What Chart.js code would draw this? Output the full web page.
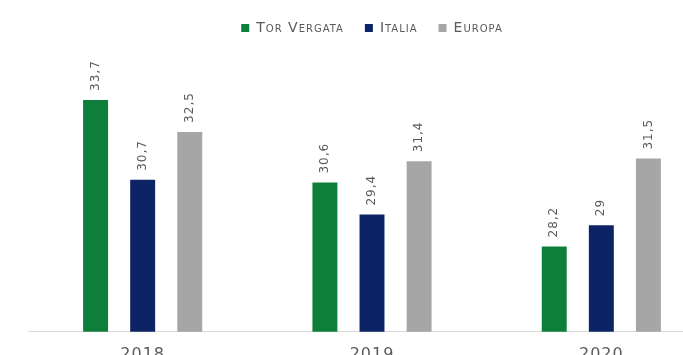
<!DOCTYPE html>
<html>
<head>
<meta charset="utf-8">
<script src="https://cdn.jsdelivr.net/npm/chart.js@4.4.1/dist/chart.umd.min.js"></script>
<style>
	html, body { margin: 0; padding: 0; background: #fff; overflow: hidden; }
	#chart { position: absolute; left: 0; top: 0; }
</style>
</head>
<body>
<canvas id="chart" width="720" height="380"></canvas>

<script>
	const years = ['2018', '2019', '2020'];
	const torVergata = [33.7, 30.6, 28.2];
	const italia = [30.7, 29.4, 29];
	const europa = [32.5, 31.4, 31.5];

	const textColor = '#5a5a5a';
	const fontFamily = '"DejaVu Sans", sans-serif';

	// a bit of spacing between letters, like the original
	const spacing = {
		id: 'spacing',
		beforeLayout(chart) { chart.ctx.letterSpacing = '1px'; },
		beforeDraw(chart) { chart.ctx.letterSpacing = '1px'; }
	};

	// values written vertically above each bar
	const barLabels = {
		id: 'barLabels',
		afterDatasetsDraw(chart) {
			const ctx = chart.ctx;
			ctx.save();
			ctx.font = '12px ' + fontFamily;
			ctx.fillStyle = textColor;
			ctx.textAlign = 'left';
			ctx.textBaseline = 'middle';
			chart.data.datasets.forEach((ds, i) => {
				chart.getDatasetMeta(i).data.forEach((bar, j) => {
					ctx.save();
					ctx.translate(bar.x, bar.y - 9);
					ctx.rotate(-Math.PI / 2);
					ctx.fillText(String(ds.data[j]).replace('.', ','), 0, 0);
					ctx.restore();
				});
			});
			ctx.restore();
		}
	};

	const chart = new Chart(document.getElementById('chart').getContext('2d'), {
		type: 'bar',
		data: {
			labels: years,
			datasets: [
				{ label: 'Tor Vergata', data: torVergata, backgroundColor: '#0e7e3b' },
				{ label: 'Italia', data: italia, backgroundColor: '#0c2466' },
				{ label: 'Europa', data: europa, backgroundColor: '#a6a6a6' }
			]
		},
		options: {
			responsive: false,
			animation: false,
			devicePixelRatio: 1,
			categoryPercentage: 0.616,
			barPercentage: 0.53,
			layout: { padding: { left: 28, right: 4, top: 0, bottom: 11 } },
			scales: {
				x: {
					grid: { display: false },
					border: { display: true, color: '#d9d9d9', width: 1 },
					ticks: { color: textColor, padding: 5, font: { size: 16, family: fontFamily } }
				},
				y: { display: false, min: 25, max: 35.76 }
			},
			plugins: {
				legend: {
					position: 'top',
					labels: {
						boxWidth: 8,
						boxHeight: 8,
						padding: 21,
						color: textColor,
						font: { size: 14, family: fontFamily, weight: 'small-caps' }
					}
				},
				tooltip: { enabled: false }
			}
		},
		plugins: [spacing, barLabels]
	});
</script>
</body>
</html>
